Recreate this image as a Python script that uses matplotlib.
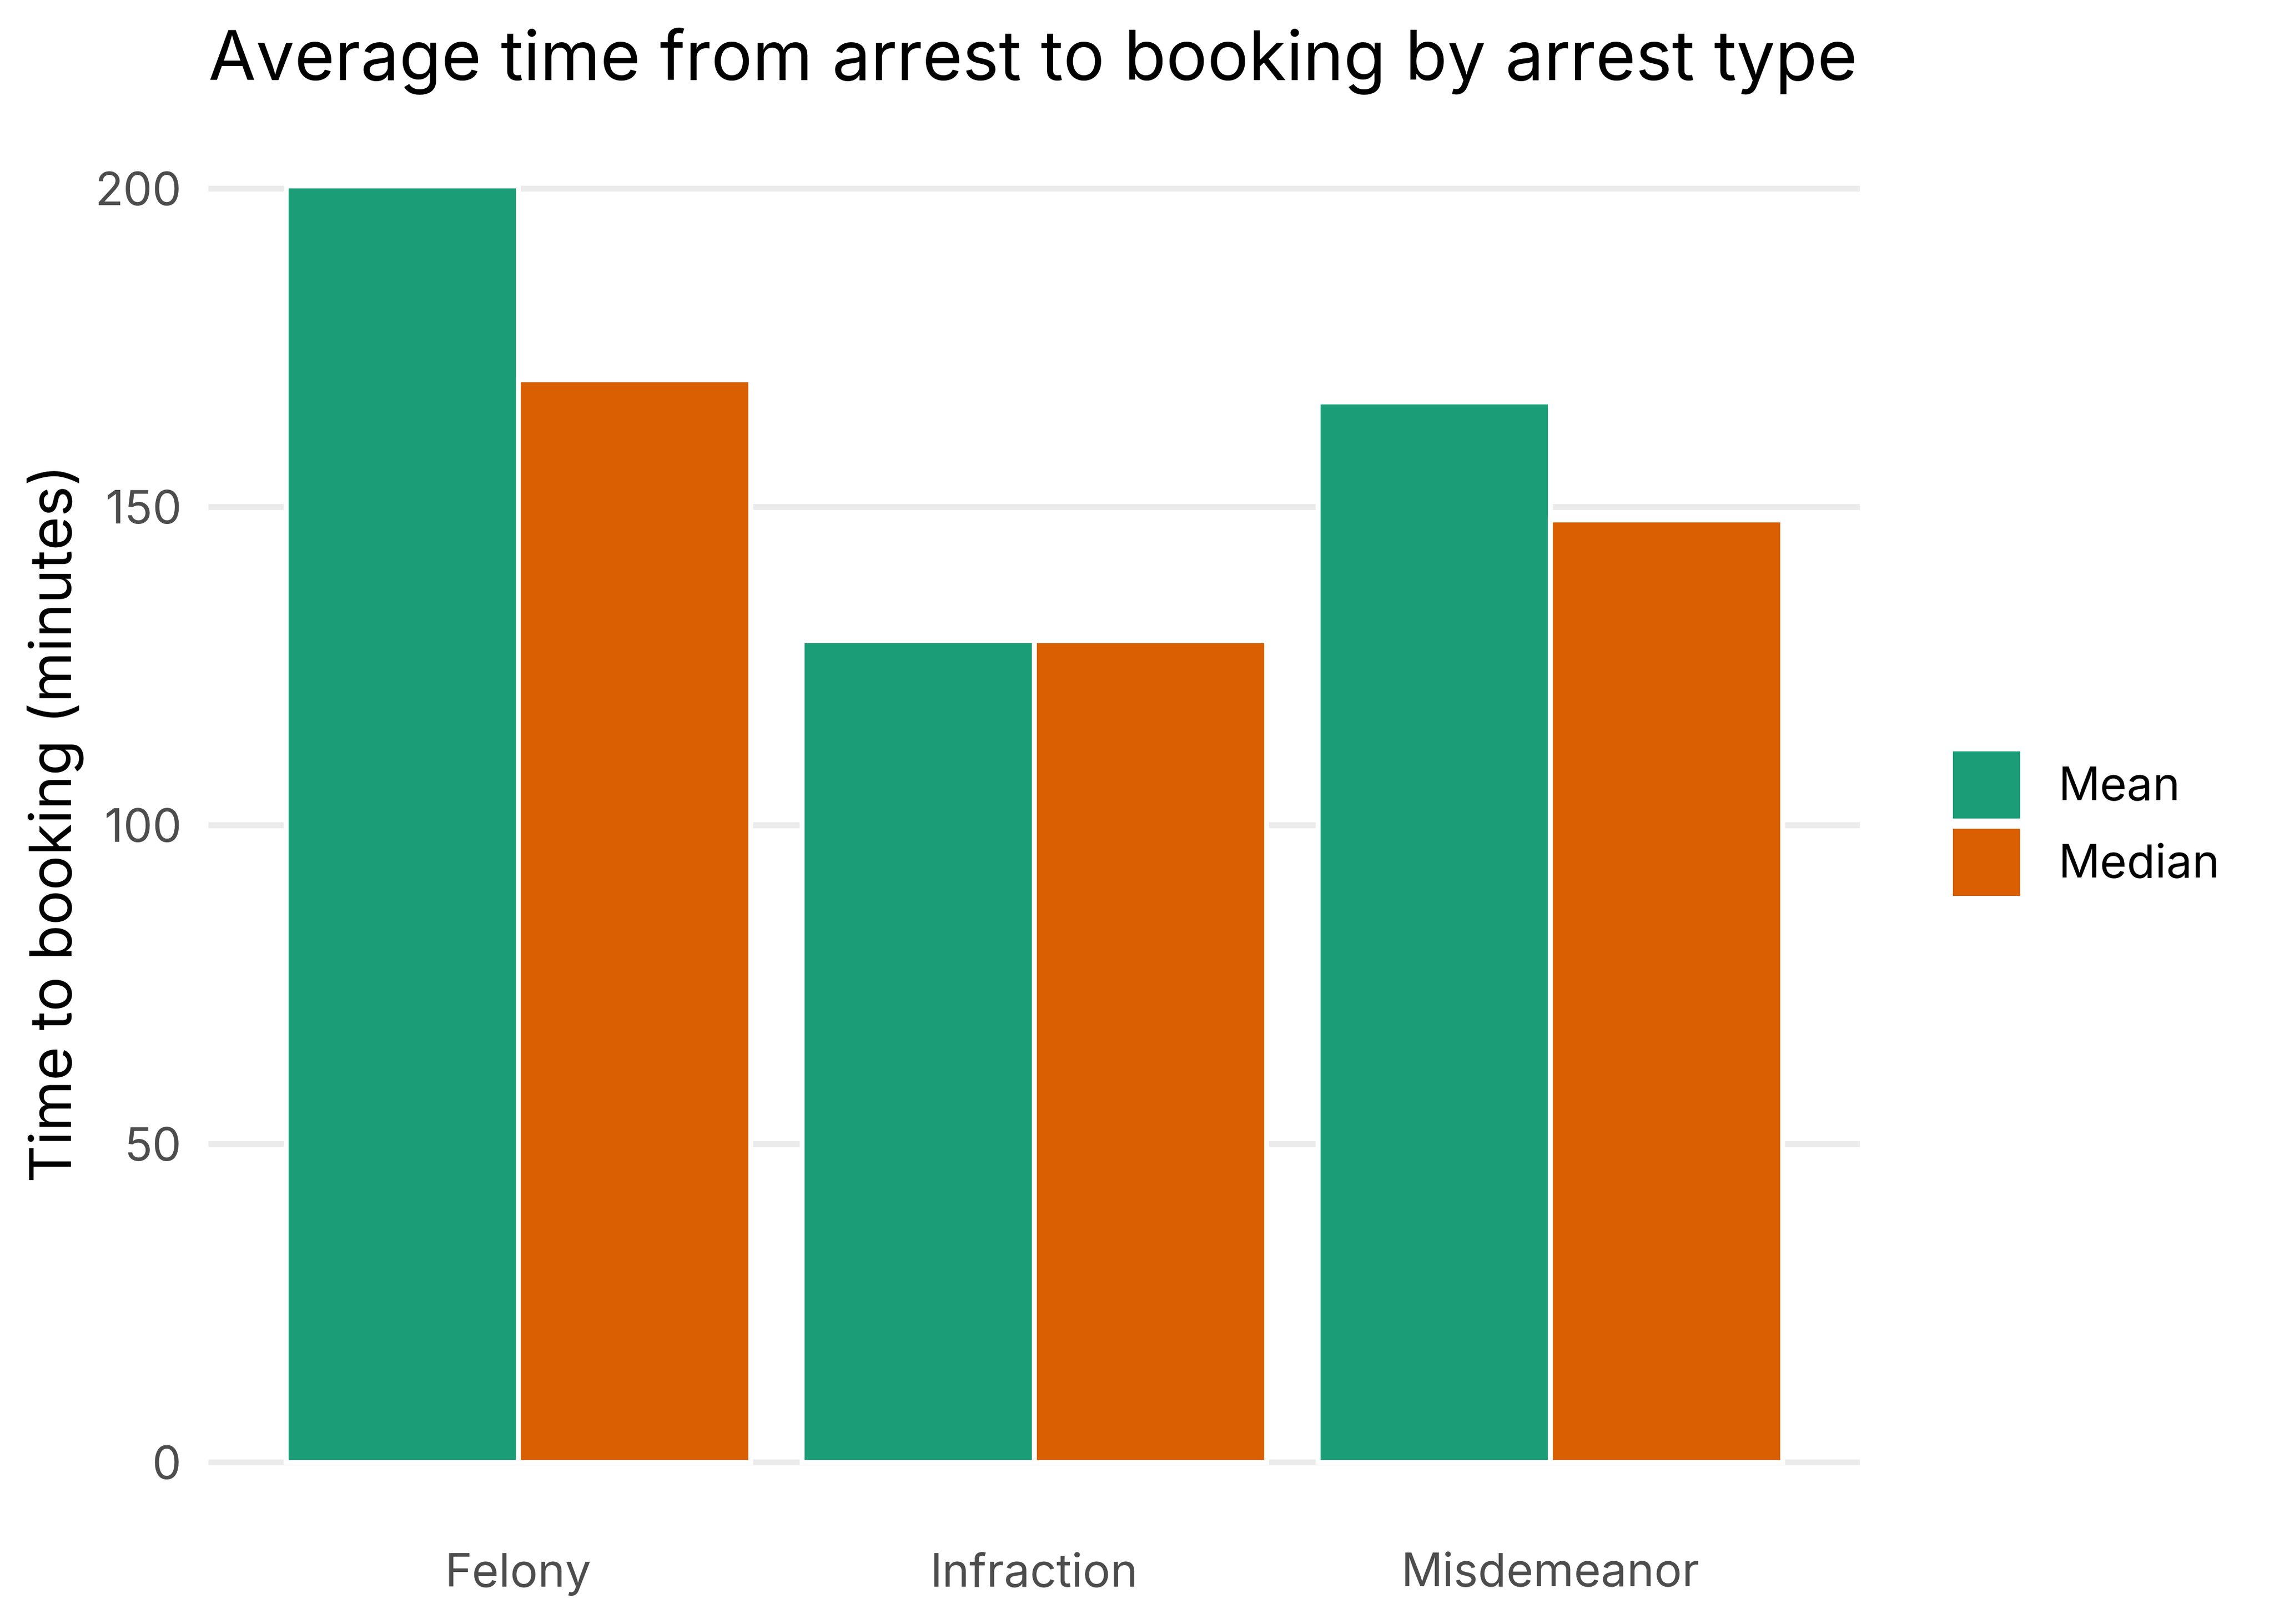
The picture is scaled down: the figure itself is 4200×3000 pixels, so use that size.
import numpy as np
import matplotlib.pyplot as plt
from matplotlib.patches import Patch

arrest_types = ['Felony', 'Infraction', 'Misdemeanor']
mean_minutes = [200.4, 129.0, 166.5]
median_minutes = [170.0, 129.0, 148.0]
series_labels = ['Mean', 'Median']
colors = ['#1B9E77', '#D95F02']

plt.rcParams['font.family'] = ['Inter', 'DejaVu Sans']

fig = plt.figure(figsize=(14, 10), dpi=300)
ax = fig.add_axes([0.0917, 0.0605, 0.7262, 0.8627])

x = np.arange(1, len(arrest_types) + 1)
width = 0.45
ax.bar(x - width / 2, mean_minutes, width=width, color=colors[0],
       edgecolor='white', linewidth=2.2, zorder=3)
ax.bar(x + width / 2, median_minutes, width=width, color=colors[1],
       edgecolor='white', linewidth=2.2, zorder=3)

ax.set_xlim(0.4, 3.6)
ax.set_ylim(-10, 210)
ax.set_yticks([0, 50, 100, 150, 200])
ax.set_xticks(x)
ax.set_xticklabels(arrest_types)
ax.grid(axis='y', color='#EBEBEB', linewidth=2.6, zorder=0)
ax.grid(axis='x', visible=False)
for s in ax.spines.values():
    s.set_visible(False)
ax.tick_params(axis='both', length=0, labelsize=20.5, labelcolor='#4D4D4D')
ax.tick_params(axis='y', pad=12)
ax.tick_params(axis='x', pad=12)

fig.text(0.0243, 0.493, 'Time to booking (minutes)', rotation=90,
         ha='center', va='center', fontsize=25.7, color='black')
fig.text(0.0917, 1 - 148 / 3000, 'Average time from arrest to booking by arrest type',
         ha='left', va='baseline', fontsize=30.5, color='black')

# legend keys ~124 px square, small gap between them
handles = [Patch(facecolor=c, edgecolor='none') for c in colors]
fig.legend(handles, series_labels, loc='center left',
           bbox_to_anchor=(3607 / 4200, 0.4928), frameon=False, fontsize=20.5,
           handlelength=1.45, handleheight=1.857, labelspacing=0.22,
           handletextpad=0.83, borderaxespad=0, borderpad=0)

fig.savefig('out.png', dpi=300, facecolor='white')
